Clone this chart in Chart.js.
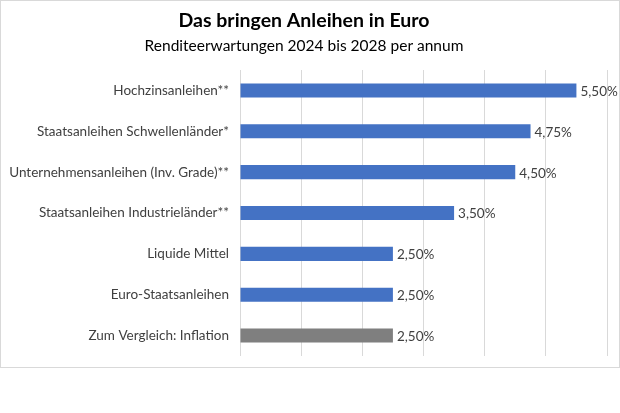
<!DOCTYPE html>
<html>
<head>
<meta charset="utf-8">
<script src="https://cdn.jsdelivr.net/npm/chart.js@4/dist/chart.umd.min.js"></script>
<style>
  html, body { margin: 0; padding: 0; background: #fff; }
  #box { position: absolute; left: 0; top: 0; width: 618px; height: 366px; border: 1px solid #d9d9d9; }
  canvas { display: block; }
</style>
</head>
<body>
<div id="box"><canvas id="chart" width="618" height="366"></canvas></div>
<script>
// Daten
const kategorien = [
  'Hochzinsanleihen**',
  'Staatsanleihen Schwellenländer*',
  'Unternehmensanleihen (Inv. Grade)**',
  'Staatsanleihen Industrieländer**',
  'Liquide Mittel',
  'Euro-Staatsanleihen',
  'Zum Vergleich: Inflation'
];
const rendite = [5.5, 4.75, 4.5, 3.5, 2.5, 2.5, 2.5];
const xTicks = [0, 1, 2, 3, 4, 5, 6];

const schrift = "'Lato', 'Open Sans', sans-serif";
const textFarbe = '#404040';

// Wert neben dem Balken schreiben
const wertLabels = {
  id: 'wertLabels',
  afterDatasetsDraw(chart) {
    const ctx = chart.ctx;
    const meta = chart.getDatasetMeta(0);
    ctx.save();
    ctx.font = '13.5px ' + schrift;
    ctx.fillStyle = textFarbe;
    ctx.textAlign = 'left';
    ctx.textBaseline = 'middle';
    meta.data.forEach((bar, i) => {
      const txt = rendite[i].toFixed(2).replace('.', ',') + '%';
      ctx.fillText(txt, bar.x + 4, bar.y + 1);
    });
    ctx.restore();
  }
};

new Chart(document.getElementById('chart'), {
  type: 'bar',
  data: {
    labels: kategorien,
    datasets: [{
      data: rendite,
      backgroundColor: kategorien.map((k, i) => i === kategorien.length - 1 ? '#7f7f7f' : '#4472c4'),
      categoryPercentage: 1,
      barPercentage: 0.345
    }]
  },
  options: {
    indexAxis: 'y',
    responsive: false,
    animation: false,
    layout: { padding: { top: 0, bottom: 11, right: 12, left: 0 } },
    plugins: {
      legend: { display: false },
      tooltip: { enabled: false },
      title: {
        display: true,
        text: 'Das bringen Anleihen in Euro',
        color: '#000',
        font: { family: schrift, size: 19.5, weight: 'bold' },
        padding: { top: 8, bottom: 2 }
      },
      subtitle: {
        display: true,
        text: 'Renditeerwartungen 2024 bis 2028 per annum',
        color: '#000',
        font: { family: schrift, size: 15.5 },
        padding: { top: 2, bottom: 15 }
      }
    },
    scales: {
      x: {
        min: xTicks[0],
        max: xTicks[xTicks.length - 1],
        afterBuildTicks: (s) => { s.ticks = xTicks.map(v => ({ value: v })); },
        afterFit: (s) => { s.height = 0; s.paddingLeft = 0; s.paddingRight = 0; },
        ticks: { display: false },
        grid: { color: '#d9d9d9', drawTicks: false },
        border: { display: false }
      },
      y: {
        afterFit: (s) => { s.width = 239; s.paddingTop = 0; s.paddingBottom = 0; },
        ticks: { color: textFarbe, font: { family: schrift, size: 13.5 }, padding: 11 },
        grid: { display: false, drawTicks: false },
        border: { display: false }
      }
    }
  },
  plugins: [wertLabels]
});
</script>
</body>
</html>
